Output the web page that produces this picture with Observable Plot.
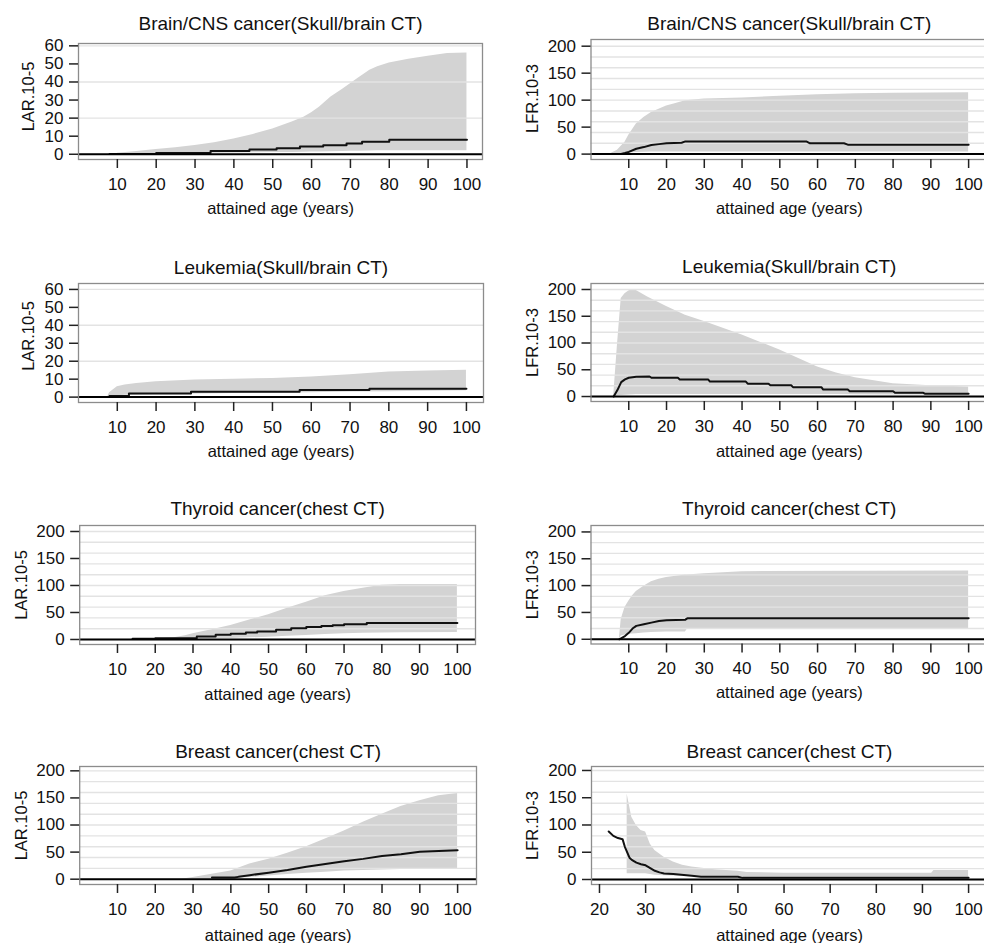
<!DOCTYPE html>
<html>
<head>
<meta charset="utf-8">
<script src="https://cdn.jsdelivr.net/npm/d3@7"></script>
<script src="https://cdn.jsdelivr.net/npm/@observablehq/plot@0.6"></script>
<style>
  html, body { margin: 0; padding: 0; background: #fff; overflow: hidden; }
  #wrap { position: relative; width: 984px; height: 943px; overflow: hidden; }
  .panel { position: absolute; }
  .panel svg { max-width: none !important; }
</style>
</head>
<body>
<div id="wrap"></div>
<script>
// ---------- Titles / labels ----------
const titles = [
  "Brain/CNS cancer(Skull/brain CT)", "Brain/CNS cancer(Skull/brain CT)",
  "Leukemia(Skull/brain CT)", "Leukemia(Skull/brain CT)",
  "Thyroid cancer(chest CT)", "Thyroid cancer(chest CT)",
  "Breast cancer(chest CT)", "Breast cancer(chest CT)"
];
const yLabels = ["LAR.10-5", "LFR.10-3", "LAR.10-5", "LFR.10-3", "LAR.10-5", "LFR.10-3", "LAR.10-5", "LFR.10-3"];
const xLabel = "attained age (years)";
const yTicksSmall = [0, 10, 20, 30, 40, 50, 60];
const yTicksLarge = [0, 50, 100, 150, 200];
const xTicksAge = [10, 20, 30, 40, 50, 60, 70, 80, 90, 100];
const xTicksBreastLFR = [20, 30, 40, 50, 60, 70, 80, 90, 100];

// ---------- Panel 1: Brain/CNS LAR ----------
const brainLarAreaAge = [10, 15, 20, 25, 30, 35, 40, 45, 50, 55, 58, 60, 62, 65, 68, 70, 72, 75, 77, 80, 85, 90, 95, 100];
const brainLarUpper   = [0.5, 1.5, 2.6, 3.6, 4.8, 6.4, 8.5, 11, 14, 17.8, 20.5, 23, 26, 31.7, 36, 39, 42, 46.5, 48.5, 50.5, 52.6, 54.3, 55.7, 56];
const brainLarLower   = [0, 0, 0.3, 0.5, 0.5, 0.6, 0.7, 0.8, 1, 1, 1.1, 1.2, 1.3, 1.4, 1.5, 1.6, 1.7, 1.8, 1.9, 2, 2, 2, 2, 2];
const brainLarMeanAge = [8, 20, 34, 44, 51, 57, 63, 69, 73, 80, 100];
const brainLarMean    = [0.2, 0.7, 1.8, 2.6, 3.3, 4.3, 5, 5.9, 6.9, 8, 8];

// ---------- Panel 2: Brain/CNS LFR ----------
const brainLfrAreaAge = [5, 7, 9, 10, 12, 14, 16, 18, 20, 22, 25, 30, 40, 50, 60, 70, 80, 100];
const brainLfrUpper   = [0, 7, 22, 35, 56, 68, 77, 83, 89, 93, 99, 102, 104, 107, 110, 112, 113, 113.5];
const brainLfrLower   = [0, 0.5, 1, 2, 3, 3.5, 4, 4, 4, 4, 4, 4, 4, 4, 4, 4, 4, 4];
const brainLfrMeanAge = [7.7, 9, 10, 12, 14, 16, 18, 20, 24, 25, 57, 58, 67, 68, 100];
const brainLfrMean    = [0, 2, 4, 10, 13, 17, 18.5, 20, 21, 23.5, 23.5, 20, 20, 17.5, 17.5];

// ---------- Panel 3: Leukemia LAR ----------
const leukLarAreaAge = [7.5, 8, 10, 12, 15, 20, 30, 40, 50, 60, 70, 80, 90, 100];
const leukLarUpper   = [0, 2.4, 5.8, 6.7, 7.6, 8.5, 9.5, 9.9, 10.4, 11.2, 12.5, 14, 14.5, 15];
const leukLarLower   = [0, 0.3, 0.6, 1, 1.2, 1.5, 1.8, 2, 2.2, 2.5, 2.8, 3, 3.2, 3.5];
const leukLarMeanAge = [8, 13, 29, 57, 75, 100];
const leukLarMean    = [0.6, 2, 3, 3.9, 4.6, 4.6];

// ---------- Panel 4: Leukemia LFR ----------
const leukLfrAreaAge = [6, 7, 8, 9, 10, 11, 12, 15, 20, 25, 30, 40, 50, 55, 60, 65, 70, 80, 90, 100];
const leukLfrUpper   = [0, 96, 183, 192, 197, 200, 198, 186, 168, 152, 140, 115, 87, 71, 55, 44, 35, 24, 20, 18];
const leukLfrLower   = [0, 1, 2, 2.5, 3, 3.5, 4, 4, 4, 4, 4, 4, 4, 4, 4, 4, 3.5, 3, 3, 3];
const leukLfrMeanAge = [6, 7, 8, 9, 10, 12, 15.5, 16, 23, 23.5, 31, 31.5, 41, 41.5, 47, 47.5, 53, 53.5, 61, 61.5, 68, 68.5, 80, 80.5, 88, 88.5, 100];
const leukLfrMean    = [0, 12, 27, 32, 35, 37, 37.5, 35, 35, 32, 32, 28, 28, 24, 24, 21, 21, 17.5, 17.5, 13, 13, 10, 10, 7, 7, 5, 5];

// ---------- Panel 5: Thyroid LAR ----------
const thyLarAreaAge = [15, 20, 25, 28, 30, 35, 40, 45, 50, 55, 60, 65, 70, 75, 80, 85, 100];
const thyLarUpper   = [0, 1, 3, 7, 10.5, 18, 26, 36, 46, 58, 69, 81, 89, 95, 100.6, 102, 102];
const thyLarLower   = [0, 0.3, 0.5, 0.8, 1, 1.5, 2, 3, 4.3, 5.8, 7.4, 9, 10.5, 11.5, 12, 12.5, 13];
const thyLarMeanAge = [14, 20, 31, 36, 40, 44, 47, 52, 56, 60, 64, 67, 70, 76, 100];
const thyLarMean    = [1.5, 2.5, 5.5, 8.6, 10.5, 13, 15, 18, 21, 23, 25, 26.5, 28, 30.5, 30.5];

// ---------- Panel 6: Thyroid LFR ----------
const thyLfrAreaAge = [7.5, 8, 9, 10, 11, 12, 14, 16, 18, 20, 25, 25.5, 30, 40, 100];
const thyLfrUpper   = [0, 37, 59, 71, 81, 89, 99, 107, 112, 115, 120, 120, 122, 126, 127];
const thyLfrLower   = [0, 6, 8, 9.5, 10, 10.5, 11.5, 12.4, 13, 13.5, 13.7, 18.6, 18.6, 18.6, 18.6];
const thyLfrMeanAge = [7.5, 9, 10, 11, 12, 14, 16, 18, 20, 25, 25.5, 100];
const thyLfrMean    = [0, 6, 12, 20, 25, 28, 31, 34, 35.4, 36.6, 39, 39];

// ---------- Panel 7: Breast LAR ----------
const brLarAreaAge = [27, 30, 35, 40, 45, 50, 55, 60, 65, 70, 75, 80, 85, 90, 95, 100];
const brLarUpper   = [0, 3, 9, 15, 28, 37, 48, 60, 74, 89, 105, 120, 134, 145, 154, 158];
const brLarLower   = [0, 0, 0.3, 0.6, 3, 6, 8.5, 11, 13, 15, 16, 17, 18, 19, 19.5, 19.7];
const brLarMeanAge = [35, 41, 42, 45, 50, 55, 60, 65, 70, 75, 80, 85, 90, 95, 100];
const brLarMean    = [3, 3, 4.3, 7.4, 12, 17, 23, 28, 33, 37.5, 43, 46, 50.5, 52, 53.5];

// ---------- Panel 8: Breast LFR ----------
const brLfrAreaAge = [26, 27, 28, 29, 30, 31, 32, 34, 36, 38, 40, 45, 50, 52, 60, 92, 92.5, 100];
const brLfrUpper   = [157, 114, 99, 90, 87, 65, 53, 41, 32, 26, 23, 18, 15, 13, 11.5, 11.5, 16.5, 16.5];
const brLfrLower   = [10.4, 10.4, 10.4, 10.4, 10.4, 9, 8, 7, 6.5, 6, 6, 5, 4, 4, 4, 4, 4, 4];
const brLfrMeanAge = [22, 23, 24, 25, 25.5, 26.5, 27, 28, 29, 30, 31, 32, 33, 34, 36, 40, 42, 50, 51, 100];
const brLfrMean    = [88, 80, 76, 74, 60, 40, 36, 31, 28, 26, 21, 16, 13, 11, 10, 7, 5, 5, 3, 3];

// ---------- Build ----------
function zipArea(ages, lo, hi) { return ages.map((a, i) => ({age: a, lo: lo[i], hi: hi[i]})); }
function zipLine(ages, v) { return ages.map((a, i) => ({age: a, v: v[i]})); }

const panels = [
  {area: zipArea(brainLarAreaAge, brainLarLower, brainLarUpper), mean: zipLine(brainLarMeanAge, brainLarMean), curve: "step-after",
   left: 0, top: 0, width: 492, height: 236, ml: 78, mr: 10, mt: 43, mb: 77, xd: [0, 104], yd: [-2.9, 61.3],
   yTicks: yTicksSmall, xTicks: xTicksAge, titleDy: -14, xlabDy: 54, ylabDx: -50, ylabDy: -5},
  {area: zipArea(brainLfrAreaAge, brainLfrLower, brainLfrUpper), mean: zipLine(brainLfrMeanAge, brainLfrMean), curve: "linear",
   left: 492, top: 0, width: 500, height: 236, ml: 98.5, mr: 5, mt: 39, mb: 77, xd: [0, 105], yd: [-10, 212.4],
   yTicks: yTicksLarge, xTicks: xTicksAge, titleDy: -10, xlabDy: 54, ylabDx: -58.5, ylabDy: -1},
  {area: zipArea(leukLarAreaAge, leukLarLower, leukLarUpper), mean: zipLine(leukLarMeanAge, leukLarMean), curve: "step-after",
   left: 0, top: 236, width: 492, height: 236, ml: 78, mr: 9, mt: 47, mb: 70, xd: [0, 104.4], yd: [-3.0, 63.3],
   yTicks: yTicksSmall, xTicks: xTicksAge, titleDy: -10, xlabDy: 54, ylabDx: -50, ylabDy: -7},
  {area: zipArea(leukLfrAreaAge, leukLfrLower, leukLfrUpper), mean: zipLine(leukLfrMeanAge, leukLfrMean), curve: "linear",
   left: 492, top: 236, width: 500, height: 236, ml: 98.5, mr: 5, mt: 47, mb: 71, xd: [0, 105], yd: [-9.3, 211.2],
   yTicks: yTicksLarge, xTicks: xTicksAge, titleDy: -11, xlabDy: 55, ylabDx: -58.5, ylabDy: 0},
  {area: zipArea(thyLarAreaAge, thyLarLower, thyLarUpper), mean: zipLine(thyLarMeanAge, thyLarMean), curve: "step-after",
   left: 0, top: 472, width: 492, height: 236, ml: 79.2, mr: 17, mt: 53, mb: 64, xd: [0, 104.8], yd: [-9.3, 211.1],
   yTicks: yTicksLarge, xTicks: xTicksAge, titleDy: -11, xlabDy: 55, ylabDx: -58, ylabDy: 0},
  {area: zipArea(thyLfrAreaAge, thyLfrLower, thyLfrUpper), mean: zipLine(thyLfrMeanAge, thyLfrMean), curve: "linear",
   left: 492, top: 472, width: 500, height: 236, ml: 98.5, mr: 5, mt: 53, mb: 64.5, xd: [0, 105], yd: [-8.8, 212],
   yTicks: yTicksLarge, xTicks: xTicksAge, titleDy: -11, xlabDy: 53.5, ylabDx: -58.5, ylabDy: 0},
  {area: zipArea(brLarAreaAge, brLarLower, brLarUpper), mean: zipLine(brLarMeanAge, brLarMean), curve: "linear",
   left: 0, top: 707, width: 492, height: 236, ml: 79.2, mr: 16, mt: 59, mb: 59, xd: [0, 105], yd: [-9.8, 208],
   yTicks: yTicksLarge, xTicks: xTicksAge, titleDy: -9, xlabDy: 56, ylabDx: -58, ylabDy: 0},
  {area: zipArea(brLfrAreaAge, brLfrLower, brLfrUpper), mean: zipLine(brLfrMeanAge, brLfrMean), curve: "linear",
   left: 492, top: 707, width: 500, height: 236, ml: 99, mr: 5, mt: 59, mb: 59, xd: [18.27, 104.1], yd: [-9.2, 207.3],
   yTicks: yTicksLarge, xTicks: xTicksBreastLFR, titleDy: -9, xlabDy: 56, ylabDx: -58.5, ylabDy: 0}
];

const FONT = "'Liberation Sans', Arial, Helvetica, sans-serif";
const wrap = document.getElementById("wrap");

panels.forEach((p, i) => {
  const gridTicks = d3.range(0, p.yd[1] + 0.001, 20);
  const chart = Plot.plot({
    width: p.width,
    height: p.height,
    marginLeft: p.ml, marginRight: p.mr, marginTop: p.mt, marginBottom: p.mb,
    style: {fontFamily: FONT, fontSize: "17px", color: "#111", background: "transparent", overflow: "visible", maxWidth: "none"},
    x: {domain: p.xd, axis: null},
    y: {domain: p.yd, axis: null},
    marks: [
      Plot.areaY(p.area, {x: "age", y1: "lo", y2: "hi", fill: "#d3d3d3", curve: "linear"}),
      Plot.gridY(gridTicks, {stroke: "#e3e3e3", strokeOpacity: 1, strokeWidth: 1.4}),
      Plot.line(p.mean, {x: "age", y: "v", stroke: "#111", strokeWidth: 2, curve: p.curve}),
      Plot.ruleY([0], {stroke: "#000", strokeWidth: 2}),
      Plot.frame({stroke: "#8c8c8c", strokeWidth: 1.3}),
      Plot.axisY({ticks: p.yTicks, tickSize: 9, tickPadding: 6, label: null, fontSize: 17, stroke: "#222", strokeWidth: 1.5, tickFormat: d3.format("d")}),
      Plot.axisX({ticks: p.xTicks, tickSize: 9, tickPadding: 9, label: null, fontSize: 17, stroke: "#222", strokeWidth: 1.5, tickFormat: d3.format("d")}),
      Plot.text([titles[i]], {text: d => d, frameAnchor: "top", dy: p.titleDy, lineAnchor: "bottom", textAnchor: "middle", fontSize: 19, fill: "#111"}),
      Plot.text([xLabel], {text: d => d, frameAnchor: "bottom", dy: p.xlabDy, lineAnchor: "bottom", textAnchor: "middle", fontSize: 16.5, fill: "#111"}),
      Plot.text([yLabels[i]], {text: d => d, frameAnchor: "left", dx: p.ylabDx, dy: p.ylabDy, rotate: -90, lineAnchor: "middle", textAnchor: "middle", fontSize: 16.5, fill: "#111"})
    ]
  });
  const div = document.createElement("div");
  div.className = "panel";
  div.style.left = p.left + "px";
  div.style.top = p.top + "px";
  div.style.width = p.width + "px";
  div.appendChild(chart);
  wrap.appendChild(div);
});
</script>
</body>
</html>
